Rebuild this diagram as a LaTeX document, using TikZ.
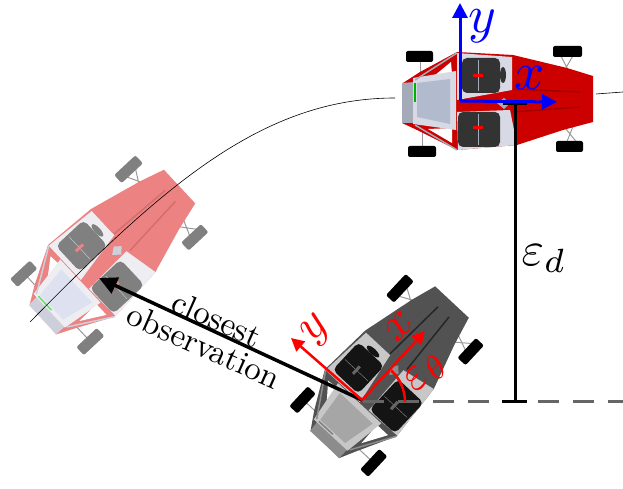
\documentclass[tikz,border=0pt]{standalone}
\usetikzlibrary{arrows.meta}

\definecolor{egobody}{RGB}{205,0,0}
\definecolor{egostreak}{RGB}{165,0,0}
\definecolor{egoframe}{RGB}{165,170,185}
\definecolor{egopanel}{RGB}{178,186,205}
\definecolor{egotrim}{RGB}{215,218,228}
\definecolor{ghostbody}{RGB}{236,130,130}
\definecolor{ghoststreak}{RGB}{215,110,110}
\definecolor{ghostframe}{RGB}{205,208,218}
\definecolor{ghostpanel}{RGB}{222,226,240}
\definecolor{ghosttrim}{RGB}{238,238,242}

\tikzset{
  racecar/.pic={
    % suspension
    \draw[carlink] (100,46) -- (112,22) (114,46) -- (100,22) (106,-44) -- (114,-24) (118,-44) -- (102,-24);
    \draw[carlink] (-40,40) -- (-40,28) (-38,-48) -- (-38,-30);
    % wheels
    \fill[carwheel,rounded corners=2pt] (93,43) rectangle (122,54);
    \fill[carwheel,rounded corners=2pt] (96,-41) rectangle (123,-52);
    \fill[carwheel,rounded corners=2pt] (-54,38) rectangle (-27,49);
    \fill[carwheel,rounded corners=2pt] (-52,-46) rectangle (-24,-57);
    % body
    \fill[carbody] (133,24) -- (107,32) -- (53,45) -- (-3,48) -- (-40,28) -- (-57,17) -- (-58,-23) -- (-43,-30)
      -- (-3,-50) -- (57,-45) -- (103,-30) -- (133,-22) -- cycle;
    \draw[carstreak,line width=1.5pt] (53,11) -- (120,8) (53,-12) -- (120,-7);
    \fill[white] (-9,38) -- (-26,24) -- (-8,26) -- cycle;
    \fill[white] (-8,-43) -- (-32,-29) -- (-8,-28) -- cycle;
    % frame and rear panel
    \fill[carframe] (-58,17) -- (-45,18) -- (-45,-23) -- (-58,-23) -- cycle;
    \fill[cartrim] (-47,22) -- (-4,29) -- (-4,-30) -- (-47,-24) -- cycle;
    \fill[carpanel] (-43,17) -- (-10,21) -- (-10,-24) -- (-43,-17) -- cycle;
    \draw[carframe,line width=1.5pt] (-45,20) -- (-3,47) (-45,-25) -- (-3,-50);
    \draw[carmark,line width=1.5pt] (-45,17) -- (-45,-2);
    % cockpit
    \fill[cartrim] (-3,47) -- (52,43) -- (52,10) -- (-3,0) -- cycle;
    \fill[cartrim] (-3,-12) -- (50,-10) -- (57,-45) -- (-2,-50) -- cycle;
    \fill[carseat,rounded corners=5pt] (2,42) rectangle (40,7);
    \fill[carseat,rounded corners=5pt] (-2,-12) rectangle (40,-47);
    \draw[carframe] (18,40) -- (18,9) (18,-14) -- (18,-45);
    \fill[carbelt] (13,23) rectangle (23,26);
    \fill[carbelt] (13,-26) rectangle (23,-29);
    \fill[carseat] (43,25) ellipse (3 and 8);
    \fill[carbody] (-3,-2) -- (40,-1) -- (40,-9) -- (-3,-10) -- cycle;
    \fill[carframe] (37,-3) -- (44,2) -- (50,-3) -- (44,-9) -- cycle;
  },
  carlink/.style={draw=black!40,line width=1pt},
  blueaxis/.style={draw=blue,line width=3pt,-{Triangle[length=15pt,width=15pt]}},
  redaxis/.style={draw=red,line width=2.5pt,-{Triangle[length=13pt,width=13pt]}},
  bluelabel/.style={text=blue,scale=5.3,inner sep=0pt},
  redlabel/.style={text=red,scale=4.8,rotate=47,inner sep=0pt},
  darkline/.style={draw=black,line width=3pt},
  roadtext/.style={scale=3.3,rotate=-24,inner sep=0pt}
}

\begin{document}
\begin{tikzpicture}[x=1pt,y=1pt]
  \useasboundingbox (0,0) rectangle (623,489);

  % faded car at the closest observation
  \begin{scope}[shift={(83,211)},rotate=43]
    \colorlet{carbody}{ghostbody}
    \colorlet{carstreak}{ghoststreak}
    \colorlet{carframe}{ghostframe}
    \colorlet{carpanel}{ghostpanel}
    \colorlet{cartrim}{ghosttrim}
    \colorlet{carseat}{black!50}
    \colorlet{carwheel}{black!50}
    \colorlet{carbelt}{ghostbody}
    \colorlet{carmark}{green!80!black!60}
    \pic[transform shape] {racecar};
  \end{scope}

  % path
  \coordinate (pathstart) at (30,167);
  \coordinate (pathmid) at (395,391);
  \coordinate (pathout) at (596,395);
  \coordinate (pathend) at (623,397);
  \draw[black,line width=0.6pt] (pathstart) .. controls (160,299) and (260,391) .. (pathmid);
  \draw[black,line width=0.6pt] (pathout) -- (pathend);

  % red target car
  \begin{scope}[shift={(460,389)}]
    \colorlet{carbody}{egobody}
    \colorlet{carstreak}{egostreak}
    \colorlet{carframe}{egoframe}
    \colorlet{carpanel}{egopanel}
    \colorlet{cartrim}{egotrim}
    \colorlet{carseat}{black!80}
    \colorlet{carwheel}{black}
    \colorlet{carbelt}{red}
    \colorlet{carmark}{green!70!black}
    \pic[transform shape] {racecar};
  \end{scope}

  % dark car
  \begin{scope}[shift={(362,89)},rotate=47]
    \colorlet{carbody}{black!68}
    \colorlet{carstreak}{black!85}
    \colorlet{carframe}{black!45}
    \colorlet{carpanel}{black!35}
    \colorlet{cartrim}{black!22}
    \colorlet{carseat}{black!92}
    \colorlet{carwheel}{black}
    \colorlet{carbelt}{black!60}
    \colorlet{carmark}{black!50}
    \pic[transform shape] {racecar};
  \end{scope}

  \coordinate (bluezero) at (460,388);
  \coordinate (bluex) at (557,387);
  \coordinate (bluey) at (460,486);
  \coordinate (redzero) at (362,89);
  \coordinate (redx) at (425,158);
  \coordinate (redy) at (291,151);
  \coordinate (ghostpoint) at (99,211);
  \coordinate (dashstart) at (363,87);
  \coordinate (dashend) at (623,87);
  \coordinate (topfoot) at (515,385);
  \coordinate (lowfoot) at (515,87);
  \coordinate (topleft) at (503,385);
  \coordinate (topright) at (527,385);
  \coordinate (lowleft) at (502,87);
  \coordinate (lowright) at (527,87);

  % distance to the path
  \draw[draw=black!60,line width=3pt,dash pattern=on 21pt off 14pt] (dashstart) -- (dashend);
  \draw[darkline] (topfoot) -- (lowfoot);
  \draw[darkline] (topleft) -- (topright);
  \draw[darkline] (lowleft) -- (lowright);
  \node[scale=4.8] (dlabel) at (544,230) {$\varepsilon_d$};

  % closest observation
  \draw[black,line width=3.5pt,-{Triangle[length=18pt,width=17pt]}] (redzero) -- (ghostpoint);
  \node[roadtext] (closetext) at (217,170) {closest};
  \node[roadtext] (obstext) at (204,143) {observation};

  % frames
  \draw[blueaxis] (bluezero) -- (bluex);
  \draw[blueaxis] (bluezero) -- (bluey);
  \node[bluelabel] (xblue) at (530,411) {$x$};
  \node[bluelabel] (yblue) at (482,463) {$y$};
  \draw[redaxis] (redzero) -- (redx);
  \draw[redaxis] (redzero) -- (redy);
  \node[redlabel] (xred) at (399,163) {$x$};
  \node[redlabel] (yred) at (317,159) {$y$};
  \draw[draw=red,line width=2.5pt] (405,87) arc (0:47:43);
  \node[redlabel] (thetared) at (427,116) {$\varepsilon_\theta$};
\end{tikzpicture}
\end{document}
